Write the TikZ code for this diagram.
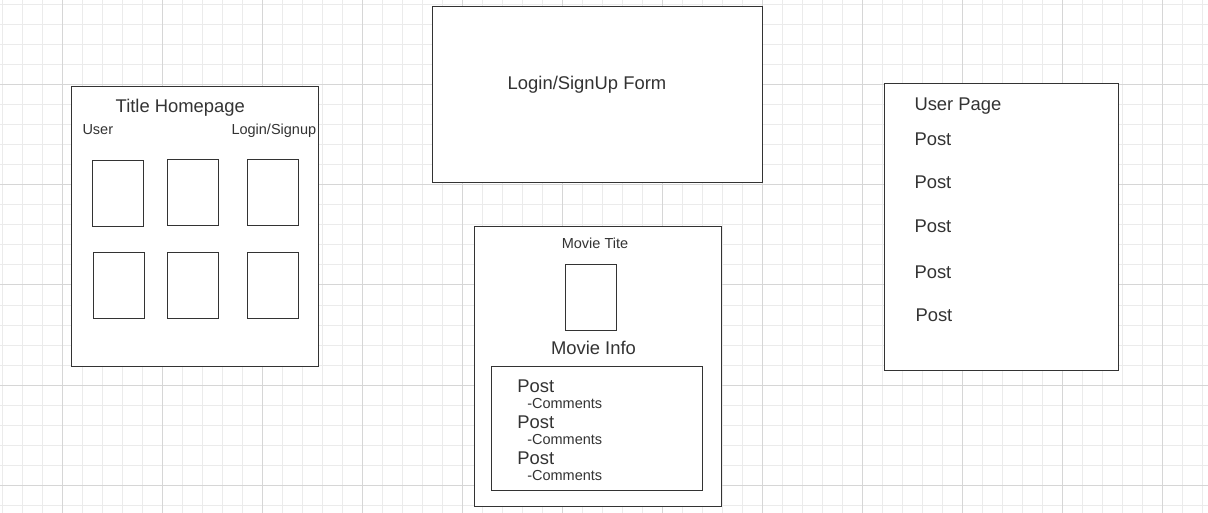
\documentclass[tikz,border=0pt]{standalone}
\usepackage{fontspec}
\setmainfont{Liberation Sans}
\definecolor{gridminor}{HTML}{EBEBEB}
\definecolor{gridmajor}{HTML}{D6D6D6}
\definecolor{ink}{HTML}{333333}
\begin{document}
\begin{tikzpicture}[x=1pt,y=-1pt,
  box/.style={draw=ink,line width=1pt},
  lbl/.style={anchor=base west,inner sep=0pt,text=ink},
  clbl/.style={anchor=base,inner sep=0pt,text=ink},
  big/.style={font=\fontsize{18.4}{18}\selectfont},
  small/.style={font=\fontsize{14.5}{14}\selectfont}]
\useasboundingbox (0,0) rectangle (1208,513);
\fill[white] (0,0) rectangle (1208,513);
% grid
\foreach \i in {0,...,60} \draw[gridminor,line width=1pt] ({2.5+20*\i},0) -- ({2.5+20*\i},513);
\foreach \i in {0,...,25} \draw[gridminor,line width=1pt] (0,{5+20*\i}) -- (1208,{5+20*\i});
\foreach \i in {0,...,11} \draw[gridmajor,line width=1pt] ({62.5+100*\i},0) -- ({62.5+100*\i},513);
\foreach \i in {1,...,5} \draw[gridmajor,line width=1pt] (0,{-15+100*\i}) -- (1208,{-15+100*\i});

% Homepage
\draw[box,fill=white] (71.5,86.5) rectangle (318.5,366.5);
\node[lbl,big] (hometitle) at (115.5,112.3) {Title Homepage};
\node[lbl,small] (homeuser) at (82.3,134.3) {User};
\node[lbl,small] (homelogin) at (231.3,134.3) {Login/Signup};
\draw[box] (92.5,160.5) rectangle (143.5,226.5);
\draw[box] (167.5,159.5) rectangle (218.5,225.5);
\draw[box] (247.5,159.5) rectangle (298.5,225.5);
\draw[box] (93.5,252.5) rectangle (144.5,318.5);
\draw[box] (167.5,252.5) rectangle (218.5,318.5);
\draw[box] (247.5,252.5) rectangle (298.5,318.5);

% Login form
\draw[box,fill=white] (432.5,6.5) rectangle (762.5,182.5);
\node[clbl,big] (loginform) at (587,89.5) {Login/SignUp Form};

% Movie page
\draw[box,fill=white] (474.5,226.5) rectangle (721.5,506.5);
\node[clbl,small] (movietitle) at (595,249) {Movie Tite};
\draw[box] (565.5,264.5) rectangle (616.5,330.5);
\node[clbl,big] (movieinfo) at (593.5,354.5) {Movie Info};
\draw[box] (491.5,366.5) rectangle (702.5,490.5);
\foreach \k/\y in {1/392.3,2/428.3,3/464.3}{
  \node[lbl,big] (mpost\k) at (517.1,\y) {Post};
  \node[lbl,small] (mcomm\k) at (527.1,\y+16) {-Comments};
}

% User page
\draw[box,fill=white] (884.5,83.5) rectangle (1118.5,370.5);
\node[lbl,big] (userpage) at (914.3,110.7) {User Page};
\node[lbl,big] (upost1) at (914.3,145.7) {Post};
\node[lbl,big] (upost2) at (914.3,189) {Post};
\node[lbl,big] (upost3) at (914.3,232.5) {Post};
\node[lbl,big] (upost4) at (914.3,278.5) {Post};
\node[lbl,big] (upost5) at (915.3,321.5) {Post};
\end{tikzpicture}
\end{document}
